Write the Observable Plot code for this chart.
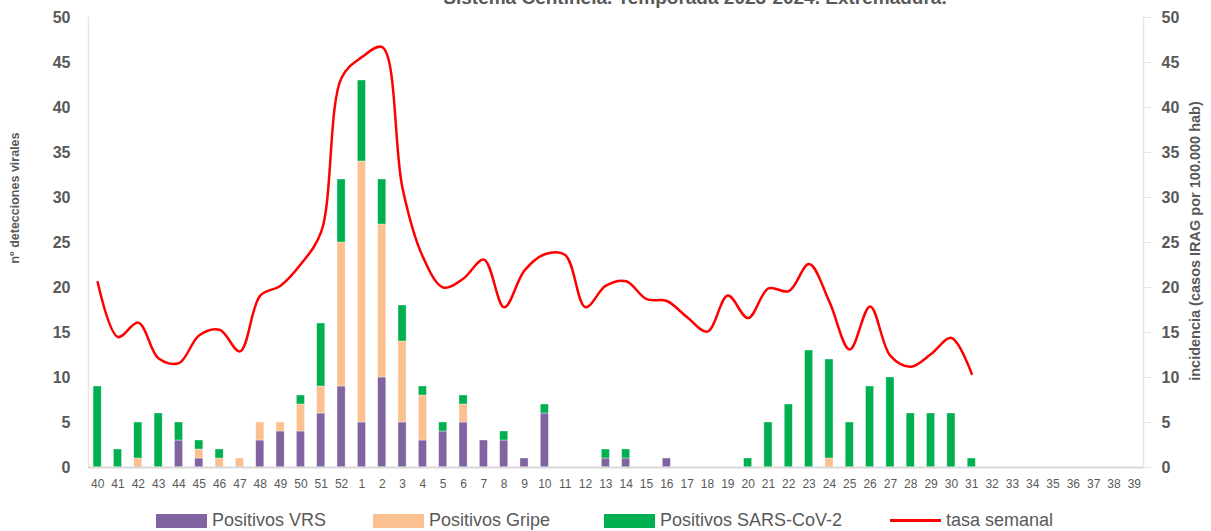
<!DOCTYPE html>
<html><head><meta charset="utf-8">
<script src="https://cdn.jsdelivr.net/npm/d3@7"></script>
<script src="https://cdn.jsdelivr.net/npm/@observablehq/plot@0.6"></script>
<style>
body{margin:0;background:#fff;overflow:hidden;font-family:"Liberation Sans",Arial,sans-serif;}
#wrap{position:relative;width:1211px;height:531px;overflow:hidden;background:#fff;}
#chart{position:absolute;left:0;top:0;}
.title{position:absolute;left:0;width:1390px;text-align:center;top:-12px;font-size:19px;line-height:19px;font-weight:bold;color:#595959;white-space:nowrap;}
.ytitle{position:absolute;font-weight:bold;color:#595959;white-space:nowrap;transform:translate(-50%,-50%) rotate(-90deg);}
.leg{position:absolute;top:510px;display:flex;align-items:center;font-size:18px;color:#595959;white-space:nowrap;}
.sw{width:51px;height:14px;margin-right:5px;}
.ln{width:51px;height:3px;background:#ff0000;margin-right:5px;}
</style></head><body>
<div id="wrap">
  <div id="chart"></div>
</div>
<script>
const weeks = ["40","41","42","43","44","45","46","47","48","49","50","51","52",
  "1","2","3","4","5","6","7","8","9","10","11","12","13","14","15","16","17","18","19","20",
  "21","22","23","24","25","26","27","28","29","30","31","32","33","34","35","36","37","38","39"];
const vrs   = [0,0,0,0,3,1,0,0,3,4,4,6,9, 5,10,5,3,4,5,3,3,1,6,0,0,1,1,0,1,0,0,0,0, 0,0,0,0,0,0,0,0,0,0,0,0,0,0,0,0,0,0,0];
const gripe = [0,0,1,0,0,1,1,1,2,1,3,3,16, 29,17,9,5,0,2,0,0,0,0,0,0,0,0,0,0,0,0,0,0, 0,0,0,1,0,0,0,0,0,0,0,0,0,0,0,0,0,0,0];
const sars  = [9,2,4,6,2,1,1,0,0,0,1,7,7, 9,5,4,1,1,1,0,1,0,1,0,0,1,1,0,0,0,0,0,1, 5,7,13,11,5,9,10,6,6,6,1,0,0,0,0,0,0,0,0];
const tasa  = [20.6,14.5,16.1,12.1,11.6,14.7,15.3,12.9,19.1,20.2,22.6,26.2,43.3,
  45.6,46.7,31.0,23.4,20.0,21.0,23.1,17.8,21.9,23.7,23.6,17.8,20.2,20.7,18.7,18.5,16.7,15.1,19.1,16.6,
  19.9,19.6,22.6,18.4,13.1,17.9,12.4,11.2,12.6,14.4,10.4,null,null,null,null,null,null,null,null];
const series = ["Positivos VRS","Positivos Gripe","Positivos SARS-CoV-2"];
const seriesColors = ["#8064A2","#FAC090","#00B050"];
const yTicks = [0,5,10,15,20,25,30,35,40,45,50];
const title = "Sistema Centinela. Temporada 2023-2024. Extremadura.";
const leftTitle = "nº detecciones virales";
const rightTitle = "incidencia (casos IRAG por 100.000 hab)";
const lineName = "tasa semanal";

const table = [];
const vals = [vrs, gripe, sars];
weeks.forEach((w, i) => {
  series.forEach((s, k) => { if (vals[k][i] > 0) table.push({week: w, serie: s, value: vals[k][i]}); });
});
const lineData = weeks.map((w, i) => ({week: w, tasa: tasa[i]})).filter(d => d.tasa != null);

const chart = Plot.plot({
  width: 1211, height: 500,
  marginLeft: 88, marginRight: 68, marginTop: 17, marginBottom: 33,
  style: {fontFamily: '"Liberation Sans", Arial, sans-serif', color: "#595959", background: "transparent", overflow: "visible"},
  x: {domain: weeks, paddingInner: 0.6, paddingOuter: 0.25, round: false, label: null},
  y: {domain: [0, 50], label: null},
  color: {domain: series, range: seriesColors},
  marks: [
    Plot.frame({anchor: "left", stroke: "#ebe5d8", strokeWidth: 1.5}),
    Plot.frame({anchor: "right", stroke: "#ebe5d8", strokeWidth: 1.5}),
    Plot.barY(table, {x: "week", y: "value", fill: "serie", stroke: "#ffffff", strokeWidth: 0.6, strokeOpacity: 0.6}),
    Plot.ruleY([0], {stroke: "#d9d9d9", strokeWidth: 2}),
    Plot.line(lineData, {x: "week", y: "tasa", stroke: "#ff0000", strokeWidth: 2.5, curve: "catmull-rom"}),
    Plot.axisX({tickSize: 0, tickPadding: 12, fontSize: 12, label: null, fill: "#595959"}),
    Plot.axisY({anchor: "left", ticks: yTicks, tickSize: 0, tickPadding: 18, fontSize: 16, fontWeight: "bold", label: null, fill: "#595959"}),
    Plot.axisY({anchor: "right", ticks: yTicks, tickSize: 7, tickPadding: 11, fontSize: 16, fontWeight: "bold", label: null, stroke: "#ebe5d8", fill: "#595959"})
  ]
});
document.getElementById("chart").appendChild(chart);

const wrap = document.getElementById("wrap");
const t = document.createElement("div"); t.className = "title"; t.textContent = title; wrap.appendChild(t);
const lt = document.createElement("div"); lt.className = "ytitle"; lt.textContent = leftTitle;
lt.style.left = "15px"; lt.style.top = "198px"; lt.style.fontSize = "12.5px"; wrap.appendChild(lt);
const rt = document.createElement("div"); rt.className = "ytitle"; rt.textContent = rightTitle;
rt.style.left = "1195px"; rt.style.top = "241px"; rt.style.fontSize = "14.5px"; wrap.appendChild(rt);

const legLefts = [156, 373, 604];
series.forEach((s, k) => {
  const it = document.createElement("div"); it.className = "leg"; it.style.left = legLefts[k] + "px";
  const sw = document.createElement("div"); sw.className = "sw"; sw.style.background = seriesColors[k];
  const tx = document.createElement("span"); tx.textContent = s;
  it.appendChild(sw); it.appendChild(tx); wrap.appendChild(it);
});
const li = document.createElement("div"); li.className = "leg"; li.style.left = "890px";
const ln = document.createElement("div"); ln.className = "ln";
const lx = document.createElement("span"); lx.textContent = lineName;
li.appendChild(ln); li.appendChild(lx); wrap.appendChild(li);
</script>
</body></html>
